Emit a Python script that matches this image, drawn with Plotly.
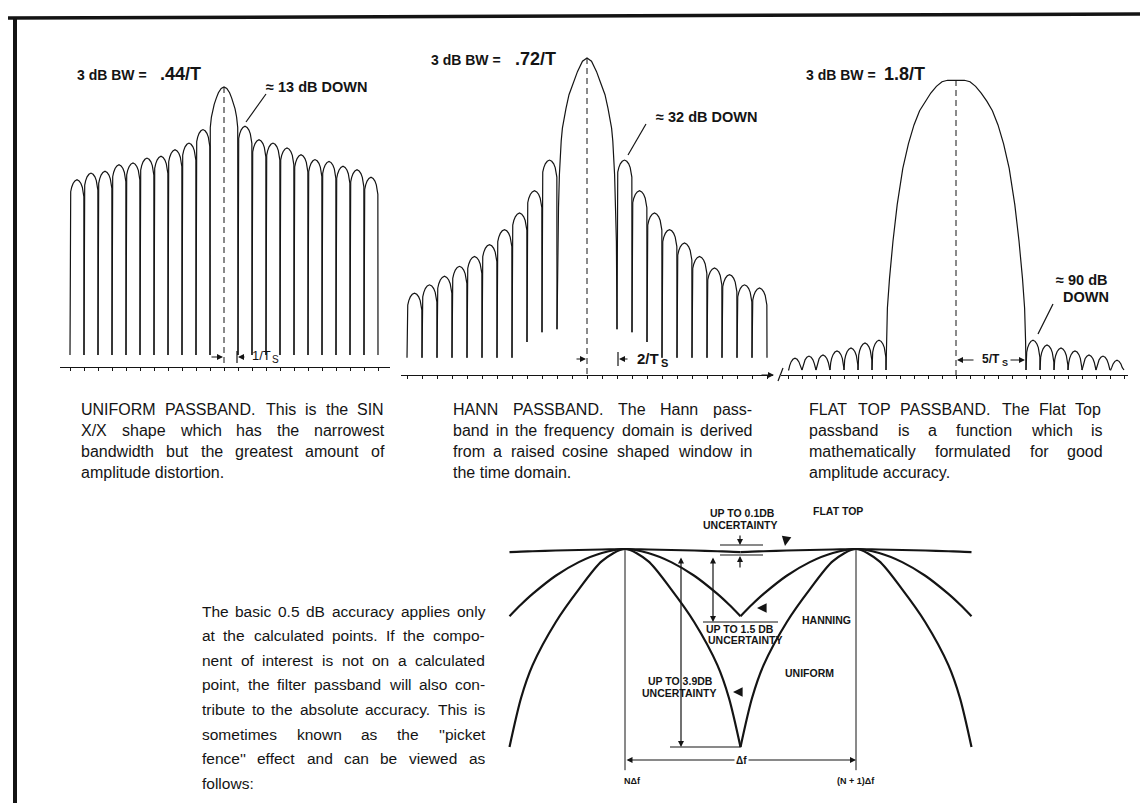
import plotly.graph_objects as go

W, H = 1148, 803
INK = "#141414"
FONT = "Liberation Sans, Arial, Helvetica, sans-serif"

# ------------------------------------------------------------------ DATA
# Uniform (sin x / x) passband: side-lobe peaks, dB below the main lobe (inner -> outer)
uniform_side_right_db = [13.1, 17.6, 18.7, 20.3, 22.6, 24.2, 24.8, 26.4, 27.6, 30.1]
uniform_side_left_db = [14.2, 18.7, 20.9, 23.1, 23.7, 25.3, 25.9, 28.1, 28.7, 30.9]
uniform_null_db = 89.3
uniform_main_bins = [0.0, 0.2, 0.4, 0.55, 0.7, 0.79, 0.9, 0.98, 1.0]
uniform_main_db = [0.0, 0.5, 1.9, 3.7, 5.8, 7.3, 10.0, 13.5, 89.3]

# Hann passband
hann_side_right_db = [32.0, 41.6, 48.6, 53.8, 58.0, 62.2, 65.8, 67.9, 71.1, 72.1]
hann_side_left_db = [32.0, 41.6, 48.6, 53.8, 58.5, 62.2, 65.3, 68.4, 71.1, 73.7]
hann_null_db = [85.0, 86.0, 89.0, 94.0, 94.0, 94.0, 94.0, 94.0, 94.0, 94.0, 94.0]
hann_main_bins = [0.0, 0.3, 0.63, 0.9, 1.2, 1.4, 1.54, 1.64, 1.72, 1.8, 1.84, 1.9, 1.96, 2.0]
hann_main_db = [0.0, 1.0, 4.2, 7.7, 11.5, 15.8, 18.8, 22.0, 26.0, 32.0, 36.6, 47.0, 57.5, 85.0]

# Flat top passband
flat_side_right_db = [89.7, 91.4, 92.4, 93.4, 94.8, 95.2, 96.6]
flat_side_left_db = [89.7, 90.7, 92.4, 93.4, 94.8, 95.2, 95.9]
flat_null_db = 100.0
flat_main_bins = [0.0, 0.6, 1.0, 1.4, 1.8, 2.2, 2.6, 3.0, 3.4, 3.8, 4.2, 4.5, 4.75, 4.9, 4.97, 5.0]
flat_main_db = [0.0, 0.1, 0.6, 2.2, 4.5, 7.3, 10.6, 15.5, 22.0, 30.5, 43.0, 55.5, 68.5, 78.6, 90.0, 100.0]

# Picket fence: offset from a calculated point (in bin spacings) -> level (dB)
pf_offsets = [0.0, 0.1, 0.2, 0.3, 0.4, 0.45, 0.5]
pf_flat_top_db = [0.0, -0.01, -0.02, -0.03, -0.045, -0.05, -0.06]
pf_hanning_db = [0.0, -0.08, -0.26, -0.53, -0.89, -1.1, -1.33]
pf_uniform_db = [0.0, -0.24, -0.8, -1.45, -2.3, -2.95, -3.92]
pf_points = [0, 1]          # N*df and (N+1)*df
pf_marker_depth_db = -4.38

# Text
caption_uniform = ["UNIFORM PASSBAND. This is the SIN",
                   "X/X shape which has the narrowest",
                   "bandwidth but the greatest amount of",
                   "amplitude distortion."]
caption_hann = ["HANN PASSBAND. The Hann pass-",
                "band in the frequency domain is derived",
                "from a raised cosine shaped window in",
                "the time domain."]
caption_flat = ["FLAT TOP PASSBAND. The Flat Top",
                "passband is a function which is",
                "mathematically formulated for good",
                "amplitude accuracy."]
paragraph = ["The basic 0.5 dB accuracy applies only",
             "at the calculated points. If the compo-",
             "nent of interest is not on a calculated",
             "point, the filter passband will also con-",
             "tribute to the absolute accuracy. This is",
             "sometimes known as the ''picket",
             "fence'' effect and can be viewed as",
             "follows:"]

# ------------------------------------------------------------------ STYLE / LAYOUT HELPERS
# side-lobe outline (fraction across the lobe, drop in screen px below the lobe peak)
ARCH_U = [0.0, 0.01, 0.05, 0.12, 0.22, 0.35, 0.5, 0.65, 0.78, 0.88, 0.95, 0.99, 1.0]
ARCH_DROP_PX = [999, 17, 12, 7.5, 3.8, 1.2, 0, 1.2, 3.8, 7.5, 12, 17, 999]

ARIAL = {' ': 278, '.': 278, ',': 278, '-': 333, "'": 191, ':': 278, '/': 278, '(': 333, ')': 333}
for c in '0123456789':
    ARIAL[c] = 556
ARIAL.update(dict(zip('abcdefghijklmnopqrstuvwxyz',
                      [556, 556, 500, 556, 556, 278, 556, 556, 222, 222, 500, 222, 833, 556, 556,
                       556, 556, 333, 500, 278, 556, 500, 722, 500, 500, 500])))
ARIAL.update(dict(zip('ABCDEFGHIJKLMNOPQRSTUVWXYZ',
                      [667, 667, 722, 722, 667, 611, 778, 722, 278, 500, 667, 556, 833, 722, 778,
                       667, 778, 722, 667, 611, 722, 667, 944, 667, 667, 611])))


def tw(s, size):
    return sum(ARIAL.get(c, 556) for c in s) * size / 1000.0


PANELS = {
    # name: (axis suffix, centre px, px per bin, peak px, px per dB, box x0, x1, y0, y1)
    'uniform': ('', 216, 14.0, 79, 3.0, 52, 382, 40, 359),
    'hann': ('2', 579, 15.0, 50, 3.19, 393, 765, 25, 367),
    'flat': ('3', 948, 14.0, 72, 2.9, 773, 1120, 40, 367),
    'pf': ('4', 617, 231.0, 541, 50.5, 480, 980, 470, 790),
}

fig = go.Figure()
layout_axes = {}
for name, (sfx, cx, ppb, pk, ppd, x0, x1, y0, y1) in PANELS.items():
    xr = [(x0 - cx) / ppb, (x1 - cx) / ppb]
    yr = [-(y1 - pk) / ppd, (pk - y0) / ppd]
    show = name != 'pf'
    layout_axes['xaxis' + sfx] = dict(domain=[x0 / W, x1 / W], range=xr, anchor='y' + sfx,
                                      showgrid=False, zeroline=False, showticklabels=False,
                                      showline=show, linecolor=INK, linewidth=1.3,
                                      ticks='outside' if show else '', ticklen=3, tickwidth=1,
                                      tickcolor=INK, tick0=0, dtick=1, visible=show, fixedrange=True)
    layout_axes['yaxis' + sfx] = dict(domain=[1 - y1 / H, 1 - y0 / H], range=yr, anchor='x' + sfx,
                                      visible=False, fixedrange=True)


def lobe(k0, k1, peak_db, floor_l, floor_r, ppd):
    xs, ys = [], []
    for u, d in zip(ARCH_U, ARCH_DROP_PX):
        fl = floor_l if u < 0.5 else floor_r
        ys.append(max(-peak_db - d / ppd, -fl))
        xs.append(k0 + u * (k1 - k0))
    return xs, ys


def passband(name, main_bins, main_db, right_db, left_db, first_null, nulls):
    sfx, cx, ppb, pk, ppd = PANELS[name][:5]
    xs = [-b for b in main_bins[::-1]] + main_bins[1:]
    ys = [-d for d in main_db[::-1]] + [-d for d in main_db[1:]]
    X, Y = xs + [None], ys + [None]
    for i, pdb in enumerate(right_db):
        k = first_null + i
        lx, ly = lobe(k, k + 1, pdb, nulls[i], nulls[i + 1], ppd)
        X += lx + [None]
        Y += ly + [None]
    for i, pdb in enumerate(left_db):
        k = first_null + i
        lx, ly = lobe(-k - 1, -k, pdb, nulls[i + 1], nulls[i], ppd)
        X += lx + [None]
        Y += ly + [None]
    fig.add_trace(go.Scatter(x=X, y=Y, mode='lines', line=dict(color=INK, width=1.2),
                             xaxis='x' + sfx, yaxis='y' + sfx, hoverinfo='skip'))
    bottom = layout_axes['yaxis' + sfx]['range'][0]
    fig.add_trace(go.Scatter(x=[0, 0], y=[0, bottom], mode='lines',
                             line=dict(color=INK, width=1, dash='6px,4px'),
                             xaxis='x' + sfx, yaxis='y' + sfx, hoverinfo='skip'))


passband('uniform', uniform_main_bins, uniform_main_db, uniform_side_right_db,
         uniform_side_left_db, 1, [uniform_null_db] * 12)
passband('hann', hann_main_bins, hann_main_db, hann_side_right_db,
         hann_side_left_db, 2, hann_null_db)
passband('flat', flat_main_bins, flat_main_db, flat_side_right_db,
         flat_side_left_db, 5, [flat_null_db] * 8)

# picket fence curves (one trace per window, both calculated points)
for levels in (pf_flat_top_db, pf_hanning_db, pf_uniform_db):
    X, Y = [], []
    for p in pf_points:
        X += [p - o for o in pf_offsets[::-1]] + [p + o for o in pf_offsets[1:]] + [None]
        Y += levels[::-1] + levels[1:] + [None]
    fig.add_trace(go.Scatter(x=X, y=Y, mode='lines', connectgaps=False,
                             line=dict(color=INK, width=2.2, shape='spline', smoothing=0.8),
                             xaxis='x4', yaxis='y4', hoverinfo='skip', cliponaxis=False))
mx, my = [], []
for p in pf_points:
    mx += [p, p, None]
    my += [0, pf_marker_depth_db, None]
fig.add_trace(go.Scatter(x=mx, y=my, mode='lines', line=dict(color=INK, width=1),
                         xaxis='x4', yaxis='y4', hoverinfo='skip'))

# ------------------------------------------------------------------ annotations
anns, shapes = [], []


def P(x, y):
    return x / W, 1 - y / H


def T(text, x, y, size, anchor='left', bold=False, **kw):
    px, py = P(x, y)
    anns.append(dict(text=('<b>%s</b>' % text) if bold else text, x=px, y=py, xref='paper', yref='paper',
                     xanchor=anchor, yanchor='middle', showarrow=False,
                     font=dict(family=FONT, size=size, color=INK), **kw))


def L(x0, y0, x1, y1, width=1.2):
    a, b = P(x0, y0)
    c, d = P(x1, y1)
    shapes.append(dict(type='line', xref='paper', yref='paper', x0=a, y0=b, x1=c, y1=d,
                       line=dict(color=INK, width=width)))


def A(xh, yh, xt, yt, both=False, head=2, size=1.0, width=1.2):
    px, py = P(xh, yh)
    anns.append(dict(text='', x=px, y=py, xref='paper', yref='paper', ax=xt - xh, ay=yt - yh,
                     axref='pixel', ayref='pixel', showarrow=True, arrowhead=head, arrowsize=size,
                     arrowwidth=width, arrowcolor=INK, arrowside='end+start' if both else 'end'))


def justify(lines, x0, x1, y, dy, size):
    for i, line in enumerate(lines):
        words = line.split(' ')
        yy = y + i * dy
        if i == len(lines) - 1 or len(words) == 1:
            T(line, x0, yy, size)
            continue
        widths = [tw(w, size) for w in words]
        gap = (x1 - x0 - sum(widths)) / (len(words) - 1)
        x = x0
        for w, wd in zip(words, widths):
            T(w, x, yy, size)
            x += wd + gap


def TS(main, x, y, size, sub_size, bold=False):
    """text like 1/T with a subscript S"""
    T(main, x, y, size, bold=bold)
    T('S', x + tw(main, size) * (1.08 if bold else 1.0) + 1, y + size * 0.3, sub_size, bold=bold)


# frame
L(0, 10, W, 6, width=3.5)
L(7, 9, 7, H, width=4)

# panel titles
T('3 dB BW =', 67, 67, 14, bold=True)
T('.44/T', 150, 66, 18, bold=True)
T('3 dB BW =', 421, 52, 14, bold=True)
T('.72/T', 505, 51, 18, bold=True)
T('3 dB BW =', 796, 67, 14, bold=True)
T('1.8/T', 874, 66, 18, bold=True)

T('\u2248 13 dB DOWN', 256, 79, 14.5, bold=True)
L(258, 86, 238, 114)
T('\u2248 32 dB DOWN', 646, 109, 14.5, bold=True)
L(638, 116, 620, 147)
T('\u2248 90 dB', 1046, 272, 14.5, bold=True)
T('DOWN', 1053, 289, 14.5, bold=True)
L(1045, 296, 1030, 326)

# bin-width markers
A(215, 349, 202, 349)
L(229, 343, 229, 355)
A(230, 349, 238, 349)
TS('1/T', 242, 348, 13, 10)
A(578, 351, 567, 351)
L(610, 344, 610, 358)
A(611, 351, 621, 351)
TS('2/T', 627, 350, 15, 11, bold=True)
A(949, 352, 967, 352)
TS('5/T', 972, 351, 12, 9, bold=True)
A(1017, 352, 1001, 352)
A(766, 367, 752, 367)   # baseline arrow of Hann panel
L(770, 373, 775, 360)   # break mark

# captions
justify(caption_uniform, 71, 374, 401, 21.2, 16)
justify(caption_hann, 443, 742, 401, 21.2, 16)
justify(caption_flat, 799, 1093, 401, 21.2, 16)
justify(paragraph, 192, 475, 603, 24.6, 15.5)

# picket fence labels & dimension marks
T('UP TO 0.1DB', 734, 505, 10.5, anchor='center', bold=True)
T('UNCERTAINTY', 732, 517, 10.5, anchor='center', bold=True)
T('FLAT TOP', 803, 503, 10.5, bold=True)
L(712, 537, 755, 537)
L(712, 547, 755, 547)
A(732, 537, 732, 526)
A(732, 548, 732, 561)
A(777, 538, 778, 532, head=2, size=1.6)     # pointer to flat top curve

A(673, 739, 673, 548, both=True)
L(662, 739, 733, 739)
T('UP TO 3.9DB', 707, 673, 10.5, anchor='right', bold=True)
T('UNCERTAINTY', 710, 685, 10.5, anchor='right', bold=True)
A(725, 684, 730, 684, head=2, size=1.6)     # pointer to uniform curve

A(705, 614, 705, 548, both=True)
L(695, 614, 770, 614)
T('UP TO 1.5 DB', 696, 621, 10.5, bold=True)
T('UNCERTAINTY', 698, 632, 10.5, bold=True)
A(749, 600, 754, 600, head=2, size=1.6)     # pointer to hanning curve
T('HANNING', 792, 612, 10.5, bold=True)
T('UNIFORM', 775, 665, 10.5, bold=True)

A(848, 752, 617, 752, both=True)
T('\u0394f', 733, 752, 10, anchor='center', bold=True, bgcolor='white')
T('N\u0394f', 624, 773, 9, anchor='center', bold=True)
T('(N + 1)\u0394f', 848, 773, 9, anchor='center', bold=True)

fig.update_layout(width=W, height=H, margin=dict(l=0, r=0, t=0, b=0),
                  paper_bgcolor='white', plot_bgcolor='white', showlegend=False,
                  annotations=anns, shapes=shapes, **layout_axes)
fig.write_html("out.html", config={'displayModeBar': False})
